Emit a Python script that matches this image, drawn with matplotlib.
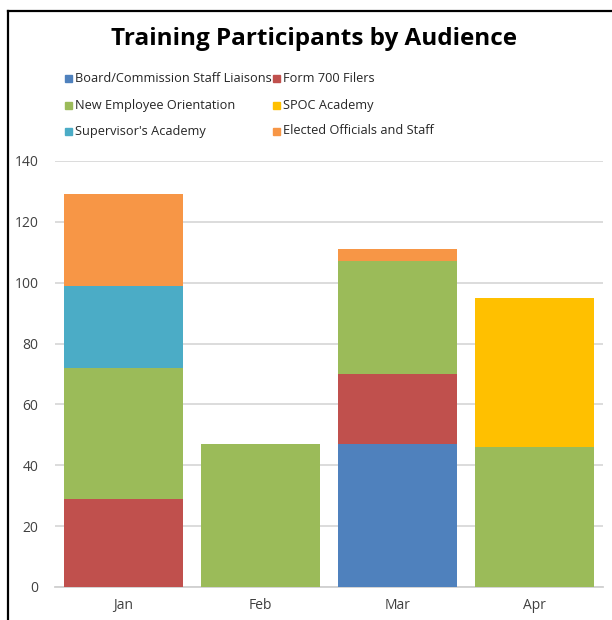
import numpy as np
import matplotlib
matplotlib.use('Agg')
import matplotlib.pyplot as plt
from matplotlib.patches import Rectangle
from matplotlib.lines import Line2D

plt.rcParams['font.family'] = ['Open Sans', 'DejaVu Sans']

# data
months = ['Jan', 'Feb', 'Mar', 'Apr']
series = ['Board/Commission Staff Liaisons', 'Form 700 Filers',
          'New Employee Orientation', 'SPOC Academy',
          "Supervisor's Academy", 'Elected Officials and Staff']
board = [0, 0, 47, 0]
form700 = [29, 0, 23, 0]
neo = [43, 47, 37, 46]
spoc = [0, 0, 0, 49]
supervisor = [27, 0, 0, 0]
elected = [30, 0, 4, 0]
yticks = [0, 20, 40, 60, 80, 100, 120, 140]

colors = ['#4f81bd', '#c0504d', '#9bbb59', '#ffc000', '#4bacc6', '#f79646']
# stacking order as seen in the bars (bottom to top)
stack = [(board, 0), (form700, 1), (neo, 2), (spoc, 3), (supervisor, 4), (elected, 5)]

W, H = 612, 620
fig = plt.figure(figsize=(W/100, H/100), dpi=100)
ax = fig.add_axes([55/W, 1-587/H, (603-55)/W, (587-161)/H])

x = np.arange(len(months))
bottom = np.zeros(len(months))
for vals, ci in stack:
    v = np.array(vals, float)
    ax.bar(x, v, width=0.875, bottom=bottom, color=colors[ci], zorder=3)
    bottom += v

ax.set_xlim(-0.5, 3.5)
ax.set_ylim(0, 140)
ax.set_yticks(yticks)
ax.set_xticks(x)
ax.set_xticklabels(months)
ax.tick_params(length=0, labelsize=10, colors='#404040')
ax.tick_params(axis='y', pad=12)
ax.tick_params(axis='x', pad=8)
ax.grid(axis='y', color='#d9d9d9', linewidth=1.3, zorder=0)
for s in ['top', 'right', 'left']:
    ax.spines[s].set_visible(False)
ax.spines['bottom'].set_color('#d0d0d0')
ax.spines['bottom'].set_linewidth(1.3)

fig.text(314/W, 1-39/H, 'Training Participants by Audience',
         ha='center', va='center', fontsize=17.5, fontweight='bold', color='black')

# legend laid out by hand: two columns, three rows
col_x = [65, 273]
row_y = [78, 105, 131]
for i, name in enumerate(series):
    cx = col_x[i % 2]
    cy = row_y[i // 2]
    fig.add_artist(Rectangle((cx/W, 1-(cy+3.5)/H), 7/W, 7/H, color=colors[i],
                             transform=fig.transFigure))
    fig.text((cx+10)/W, 1-cy/H, name, ha='left', va='center',
             fontsize=9.2, color='#262626')

# outer frame (left and top edges)
fig.add_artist(Line2D([7.5/W, 7.5/W], [0, 1-10.5/H], color='black', linewidth=1.6,
                      transform=fig.transFigure))
fig.add_artist(Line2D([7.5/W, 1], [1-10.5/H, 1-10.5/H], color='black', linewidth=1.6,
                      transform=fig.transFigure))

fig.savefig('out.png', dpi=100)
